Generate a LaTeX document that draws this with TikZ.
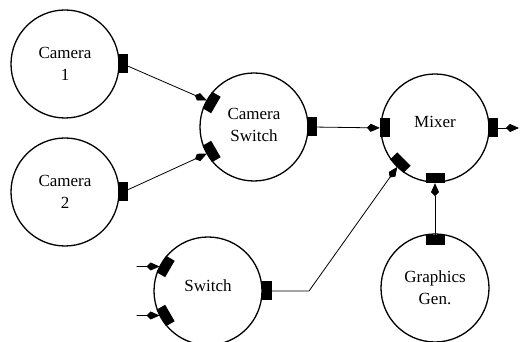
\documentclass[tikz,border=0pt]{standalone}
\usepackage{fontspec}
\setmainfont{Liberation Serif}
\usetikzlibrary{arrows.meta,calc}
\begin{document}
\begin{tikzpicture}[x=1pt,y=1pt,
  unit/.style={circle,draw,line width=1.3pt,minimum size=108pt,inner sep=0pt},
  lbl/.style={align=center,font=\fontsize{17}{22}\selectfont},
  port/.style={rectangle,fill=black,draw=none,inner sep=0pt,minimum width=10pt,minimum height=19pt},
  arr/.style={line width=0.8pt,-{Kite[length=13pt,width=8pt,inset=4pt]}}]
\useasboundingbox (0,0) rectangle (520,342);
% units
\node[unit] (cam1) at (65,278) {};
\node[unit] (cam2) at (65,150) {};
\node[unit] (cs) at (254,215) {};
\node[unit] (mix) at (435,214) {};
\node[unit] (sw) at (208,51) {};
\node[unit] (gg) at (435,54) {};
% labels
\node[lbl] (t1) at (cam1) {Camera\\1};
\node[lbl] (t2) at (cam2) {Camera\\2};
\node[lbl] (t3) at ([yshift=2pt]cs.center) {Camera\\Switch};
\node[lbl] (t4) at ([yshift=6pt]mix.center) {Mixer};
\node[lbl] (t5) at ([yshift=5pt]sw.center) {Switch};
\node[lbl] (t6) at (gg) {Graphics\\Gen.};
% ports
\node[port] (c1o) at ($(cam1)+(0:58)$) {};
\node[port] (c2o) at ($(cam2)+(0:58)$) {};
\node[port,rotate=150] (csi1) at ($(cs)+(150:49)$) {};
\node[port,rotate=210] (csi2) at ($(cs)+(210:49)$) {};
\node[port] (cso) at ($(cs)+(0:58)$) {};
\node[port,rotate=180] (mi1) at ($(mix)+(180:50)$) {};
\node[port,rotate=225] (mi2) at ($(mix)+(225:49)$) {};
\node[port,rotate=270] (mi3) at ($(mix)+(270:50)$) {};
\node[port] (mo) at ($(mix)+(0:58)$) {};
\node[port,rotate=150] (swi1) at ($(sw)+(150:49)$) {};
\node[port,rotate=210] (swi2) at ($(sw)+(210:49)$) {};
\node[port] (swo) at ($(sw)+(0:59)$) {};
\node[port,rotate=90] (ggo) at ($(gg)+(90:48)$) {};
% free ends
\path (swi1.center) ++(-29,0) coordinate (s1);
\path (swi2.center) ++(-29,0) coordinate (s2);
\path (mo.center) ++(26,0) coordinate (mout);
\coordinate (bend) at (309,51);
% connectors
\draw[arr] (c1o) -- (csi1);
\draw[arr] (c2o) -- (csi2);
\draw[arr] (cso) -- (mi1);
\draw[arr] (swo) -- (bend) -- (mi2);
\draw[arr] (ggo) -- (mi3);
\draw[arr] (mo) -- (mout);
\draw[arr] (s1) -- (swi1);
\draw[arr] (s2) -- (swi2);
\end{tikzpicture}
\end{document}
